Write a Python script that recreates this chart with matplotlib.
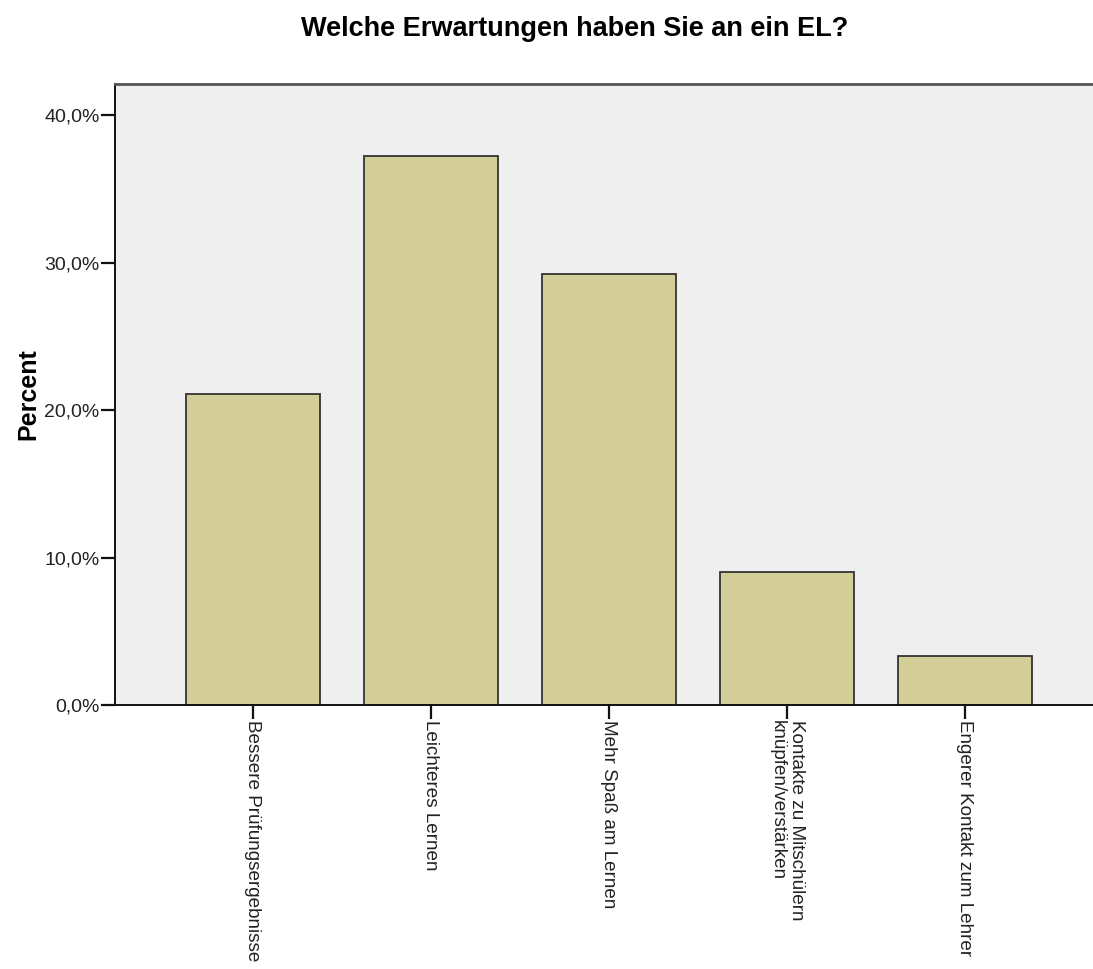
import matplotlib.pyplot as plt
import numpy as np
from matplotlib.ticker import FuncFormatter

plt.rcParams['font.family'] = ['Liberation Sans', 'DejaVu Sans']

categories = ['Bessere Prüfungsergebnisse', 'Leichteres Lernen', 'Mehr Spaß am Lernen',
              'Kontakte zu Mitschülern\nknüpfen/verstärken', 'Engerer Kontakt zum Lehrer']
percent = [21.1, 37.2, 29.2, 9.0, 3.3]
y_ticks = [0, 10, 20, 30, 40]


def pct_fmt(v, pos):
    return '{:.1f}%'.format(v).replace('.', ',')


fig = plt.figure(figsize=(10.93, 9.69), dpi=100)
ax = fig.add_axes([0.1052, 0.2724, 0.9039, 0.6409])
ax.set_facecolor('#efefef')

x = np.arange(len(categories))
ax.bar(x, percent, width=0.753, color='#d3ce98', edgecolor='#333333', linewidth=1.3)

ax.set_xlim(-0.775, 4.775)
ax.set_ylim(0, 42.1)
ax.set_yticks(y_ticks)
ax.yaxis.set_major_formatter(FuncFormatter(pct_fmt))
ax.set_xticks(x)
ax.set_xticklabels(categories, rotation=270, ha='center', va='top', multialignment='left')

ax.tick_params(axis='both', direction='out', length=10, width=1.6, color='#111111',
               labelsize=14, labelcolor='#222222')
ax.tick_params(axis='x', pad=1.0, labelsize=13.6)
ax.tick_params(axis='y', pad=1.0)

for side in ['left', 'bottom']:
    ax.spines[side].set_color('#111111')
    ax.spines[side].set_linewidth(1.4)
ax.spines['top'].set_color('#555555')
ax.spines['top'].set_linewidth(2)
ax.spines['right'].set_visible(False)

ax.set_ylabel('Percent', fontsize=18, fontweight='bold', labelpad=3)
fig.text(575 / 1093, 1 - 29 / 969, 'Welche Erwartungen haben Sie an ein EL?',
         ha='center', va='center', fontsize=19.5, fontweight='bold')

fig.savefig('out.png', dpi=100)
